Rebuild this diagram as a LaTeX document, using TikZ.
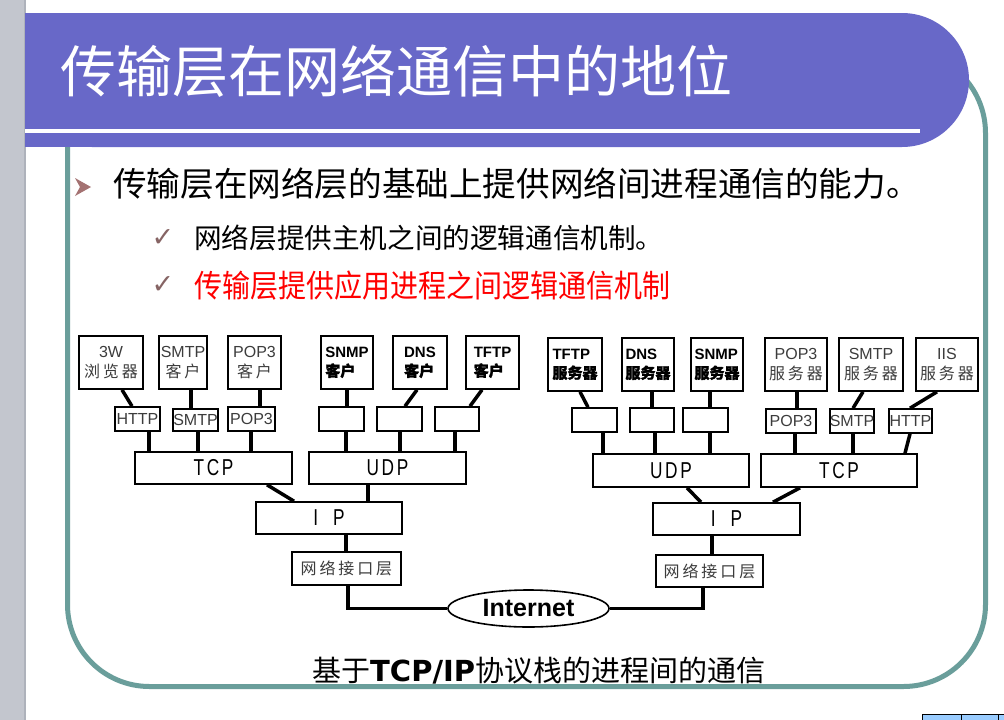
\documentclass[tikz,border=0pt]{standalone}
\usepackage{fontspec}
\usepackage{graphicx}
\setmainfont{Liberation Sans}
\newfontfamily\cjk{Noto Sans CJK SC}
\newfontfamily\cjksp[LetterSpace=18]{Noto Sans CJK SC}
\newfontfamily\cjkbf[FakeBold=1.5]{Noto Sans CJK SC}
\newfontfamily\latsp[LetterSpace=15]{Liberation Sans}
\newfontfamily\deja{DejaVu Sans}
\newcommand\narrowlab[1]{\scalebox{0.75}[1]{\latsp #1}}
\usetikzlibrary{shapes.geometric}
\definecolor{banner}{HTML}{6868C8}
\definecolor{frameteal}{HTML}{6A9E9B}
\definecolor{stripgray}{HTML}{C3C6CE}
\definecolor{stripedge}{HTML}{AEB2BB}
\definecolor{labgray}{HTML}{3C3C3C}
\definecolor{bulletbrown}{HTML}{A47272}
\definecolor{tickbrown}{HTML}{866464}
\definecolor{cellblue}{HTML}{99CCFF}
\begin{document}
\begin{tikzpicture}[x=1pt,y=-1pt,
  box/.style={draw, line width=1.6pt, fill=white, inner sep=0pt},
  con/.style={line width=3.5pt},
  glab/.style={text=labgray, font=\fontsize{16}{20}\selectfont, align=center},
  blab/.style={text=black, font=\bfseries\fontsize{15}{19}\selectfont, align=left},
  plab/.style={text=labgray, font=\fontsize{16}{16}\selectfont},
  llab/.style={text=black, font=\fontsize{23}{23}\selectfont},
  tick/.style={text=tickbrown, font=\deja\fontsize{27}{27}\selectfont, inner sep=0pt}
]
\useasboundingbox (0,0) rectangle (1004,720);
\fill[white] (0,0) rectangle (1004,720);
\fill[stripgray] (0,0) rectangle (25,720);
\draw[stripedge, line width=1.5pt] (25,0) -- (25,720);
% frame
\draw[frameteal, line width=5pt, rounded corners=82pt] (67.5,51) rectangle (985.5,686.5);
% banner
\fill[banner, rounded corners=67pt] (25,13) rectangle (969,147);
\fill[banner] (25,13) rectangle (600,147);
\draw[white, line width=4pt] (25,130.5) -- (920,130.5);
\node[anchor=west, text=white, font=\cjk\fontsize{56}{60}\selectfont, inner sep=0pt] (title) at (60,71) {传输层在网络通信中的地位};
% bullets
\fill[bulletbrown] (75,178) -- (91,187) -- (75,196) -- (80,187) -- cycle;
\node[anchor=west, font=\cjk\fontsize{33.6}{36}\selectfont, inner sep=0pt] (l1) at (113,184) {传输层在网络层的基础上提供网络间进程通信的能力。};
\node[tick] (t2) at (163,238) {✓};
\node[anchor=west, font=\cjk\fontsize{27.6}{30}\selectfont, inner sep=0pt] (l2) at (194,238) {网络层提供主机之间的逻辑通信机制。};
\node[tick] (t3) at (163,285) {✓};
\node[anchor=west, text=red, font=\cjk\fontsize{28}{32}\selectfont, inner sep=0pt] (l3) at (194,286) {\scalebox{1}[1.12]{传输层提供应用进程之间逻辑通信机制}};
% left top boxes
\node[box, minimum width=64pt, minimum height=53pt, glab] (w3) at (111,362.5) {3W\\{\cjksp 浏览器}};
\node[box, minimum width=48pt, minimum height=53pt, glab] (smtpc) at (183,362.5) {SMTP\\{\cjksp 客户}};
\node[box, minimum width=53pt, minimum height=53pt, glab] (pop3c) at (254.5,362.5) {POP3\\{\cjksp 客户}};
\node[box, minimum width=52pt, minimum height=53pt, blab] (snmpc) at (347,362.5) {SNMP\\{\cjkbf 客户}};
\node[box, minimum width=54pt, minimum height=53pt, blab] (dnsc) at (420,362.5) {DNS\\{\cjkbf 客户}};
\node[box, minimum width=53pt, minimum height=53pt, blab] (tftpc) at (492.5,362.5) {TFTP\\{\cjkbf 客户}};
% left protocol boxes
\node[box, minimum width=45pt, minimum height=24pt, plab] (http1) at (137.5,419) {HTTP};
\node[box, minimum width=43pt, minimum height=22pt, plab] (smtp1) at (195.5,420) {SMTP};
\node[box, minimum width=47pt, minimum height=24pt, plab] (pop31) at (251.5,419) {POP3};
\node[box, minimum width=45pt, minimum height=24pt] (b1) at (341.5,419) {};
\node[box, minimum width=45pt, minimum height=24pt] (b2) at (399.5,419) {};
\node[box, minimum width=44pt, minimum height=24pt] (b3) at (457,419) {};
\node[box, minimum width=157pt, minimum height=32pt, llab] (tcp1) at (213.5,468) {\narrowlab{TCP}};
\node[box, minimum width=157pt, minimum height=32pt, llab] (udp1) at (387.5,468) {\narrowlab{UDP}};
\node[box, minimum width=146pt, minimum height=32pt, llab] (ip1) at (329,518) {\narrowlab{I\hspace{20pt}P}};
\node[box, minimum width=109pt, minimum height=33pt, glab] (ni1) at (346.5,568.5) {\cjksp 网络接口层};
% internet
\node[ellipse, draw, line width=1.6pt, fill=white, minimum width=161pt, minimum height=37pt, inner sep=0pt, font=\bfseries\fontsize{25}{25}\selectfont] (inet) at (528.5,608.5) {Internet};
% right stack
\node[box, minimum width=107pt, minimum height=32pt, glab] (ni2) at (709.5,571) {\cjksp 网络接口层};
\node[box, minimum width=147pt, minimum height=32pt, llab] (ip2) at (726.5,519) {\narrowlab{I\hspace{20pt}P}};
\node[box, minimum width=156pt, minimum height=33pt, llab] (udp2) at (671,470.5) {\narrowlab{UDP}};
\node[box, minimum width=156pt, minimum height=33pt, llab] (tcp2) at (839,470.5) {\narrowlab{TCP}};
\node[box, minimum width=54pt, minimum height=53pt, blab] (tftps) at (575,364.5) {TFTP\\{\cjkbf 服务器}};
\node[box, minimum width=52pt, minimum height=53pt, blab] (dnss) at (648,364.5) {DNS\\{\cjkbf 服务器}};
\node[box, minimum width=52pt, minimum height=53pt, blab] (snmps) at (717,364.5) {SNMP\\{\cjkbf 服务器}};
\node[box, minimum width=62pt, minimum height=53pt, glab] (pop3s) at (796,364.5) {POP3\\{\cjksp 服务器}};
\node[box, minimum width=64pt, minimum height=53pt, glab] (smtps) at (871,364.5) {SMTP\\{\cjksp 服务器}};
\node[box, minimum width=62pt, minimum height=53pt, glab] (iiss) at (947,364.5) {IIS\\{\cjksp 服务器}};
\node[box, minimum width=45pt, minimum height=24pt] (ba) at (594.5,420) {};
\node[box, minimum width=44pt, minimum height=24pt] (bb) at (652,420) {};
\node[box, minimum width=45pt, minimum height=24pt] (bc) at (705.5,420) {};
\node[box, minimum width=50pt, minimum height=24pt, plab] (pop3p) at (791,421) {POP3};
\node[box, minimum width=44pt, minimum height=24pt, plab] (smtpp) at (852,421) {SMTP};
\node[box, minimum width=43pt, minimum height=24pt, plab] (httpp) at (910.5,421) {HTTP};
% connectors left
\draw[con] ([xshift=11pt]w3.south) -- ([xshift=-5.5pt]http1.north);
\draw[con] ([xshift=8pt]smtpc.south) -- ([xshift=-4.5pt]smtp1.north);
\draw[con] ([xshift=5.5pt]pop3c.south) -- ([xshift=8.5pt]pop31.north);
\draw[con] ([xshift=11.5pt]http1.south) -- ([xshift=-64.5pt]tcp1.north);
\draw[con] ([xshift=2.5pt]smtp1.south) -- ([xshift=-15.5pt]tcp1.north);
\draw[con] ([xshift=-0.5pt]pop31.south) -- ([xshift=37.5pt]tcp1.north);
\draw[con] (snmpc.south) -- ([xshift=5.5pt]b1.north);
\draw[con] ([xshift=-3pt]dnsc.south) -- ([xshift=5.5pt]b2.north);
\draw[con] ([xshift=-10.5pt]tftpc.south) -- ([xshift=13pt]b3.north);
\draw[con] ([xshift=4.5pt]b1.south) -- ([xshift=-41.5pt]udp1.north);
\draw[con] ([xshift=0.5pt]b2.south) -- ([xshift=12.5pt]udp1.north);
\draw[con] ([xshift=-2pt]b3.south) -- ([xshift=67.5pt]udp1.north);
\draw[con] ([xshift=53.5pt]tcp1.south) -- ([xshift=-35pt]ip1.north);
\draw[con] ([xshift=-19.5pt]udp1.south) -- ([xshift=39pt]ip1.north);
\draw[con] ([xshift=17pt]ip1.south) -- ([xshift=-0.5pt]ni1.north);
\draw[con] ([xshift=1.5pt]ni1.south) |- (inet.west);
\draw[con] (inet.east) -| ([xshift=-6.5pt]ni2.south);
% connectors right
\draw[con] ([xshift=-14.5pt]ip2.south) -- ([xshift=2.5pt]ni2.north);
\draw[con] ([xshift=16pt]udp2.south) -- ([xshift=-25.5pt]ip2.north);
\draw[con] ([xshift=-39pt]tcp2.south) -- ([xshift=46.5pt]ip2.north);
\draw[con] ([xshift=5pt]tftps.south) -- ([xshift=-6.5pt]ba.north);
\draw[con] ([xshift=4pt]dnss.south) -- (bb.north);
\draw[con] ([xshift=-7pt]snmps.south) -- ([xshift=4.5pt]bc.north);
\draw[con] ([xshift=1pt]pop3s.south) -- ([xshift=6pt]pop3p.north);
\draw[con] ([xshift=-8pt]smtps.south) -- ([xshift=1pt]smtpp.north);
\draw[con] ([xshift=-10pt]iiss.south) -- ([xshift=-0.5pt]httpp.north);
\draw[con] ([xshift=8.5pt]ba.south) -- ([xshift=-68pt]udp2.north);
\draw[con] ([xshift=3pt]bb.south) -- ([xshift=-16pt]udp2.north);
\draw[con] ([xshift=4.5pt]bc.south) -- ([xshift=39pt]udp2.north);
\draw[con] ([xshift=4pt]pop3p.south) -- ([xshift=-44pt]tcp2.north);
\draw[con] ([xshift=1pt]smtpp.south) -- ([xshift=14pt]tcp2.north);
\draw[con] ([xshift=-0.5pt]httpp.south) -- ([xshift=66pt]tcp2.north);
% caption
\node[anchor=west, font=\cjk\fontsize{29}{30}\selectfont, inner sep=0pt] (cap) at (312,671) {基于{\deja\bfseries TCP/IP}协议栈的进程间的通信};
% table fragment bottom right
\fill[cellblue] (922,714) rectangle (1004,720);
\draw[line width=1pt] (1004,714) -- (922,714) -- (922,720);
\draw[line width=1pt] (961,714) -- (961,720);
\draw[line width=1pt] (998,714) -- (998,720);
\end{tikzpicture}
\end{document}
